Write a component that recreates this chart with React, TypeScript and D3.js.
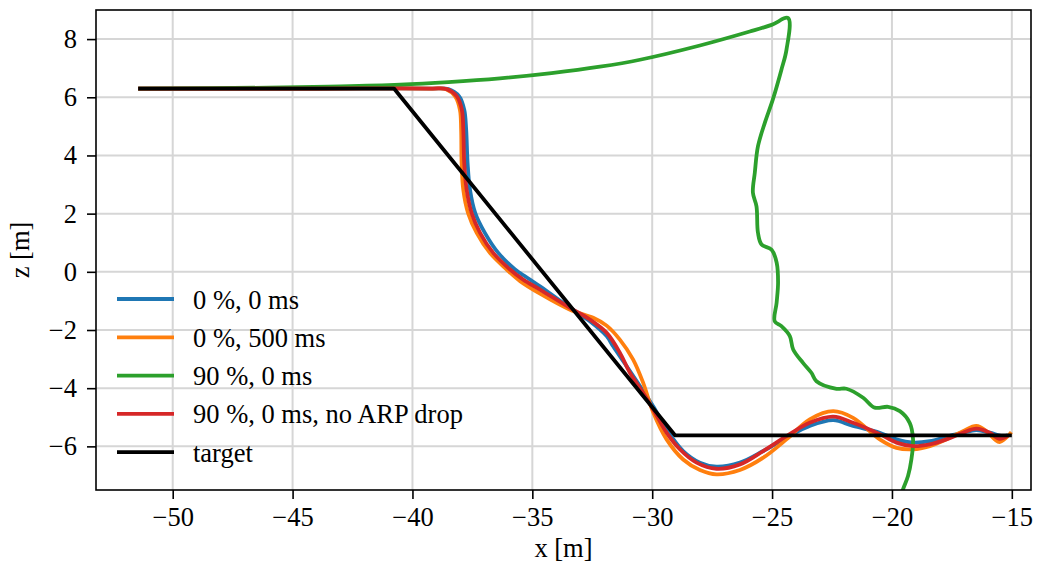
import { useEffect, useRef } from "react";
import * as d3 from "d3";

// trajectories in the x-z plane, [x, z] in metres
const target: [number, number][] = [
  [-51.44, 6.3], [-40.77, 6.3], [-29.05, -5.62], [-15.0, -5.62],
];

const noLoss: [number, number][] = [
  [-51.44, 6.3], [-44, 6.3], [-39.2, 6.3], [-38.5, 6.28], [-38.05, 6.03], [-37.84, 5.57],
  [-37.76, 4.89], [-37.7, 3.74], [-37.6, 2.82], [-37.38, 2.02], [-36.98, 1.34], [-36.42, 0.65],
  [-35.72, 0.08], [-35.51, -0.04], [-34.68, -0.5], [-33.43, -1.24], [-32.6, -1.7], [-31.9, -2.21],
  [-31.63, -2.56], [-31.07, -3.24], [-30.51, -3.93], [-29.96, -4.62], [-29.4, -5.42], [-28.71, -6.16],
  [-28.01, -6.56], [-27.32, -6.7], [-26.34, -6.56], [-25.37, -6.16], [-24.4, -5.7], [-23.43, -5.3],
  [-22.45, -5.1], [-21.62, -5.3], [-20.51, -5.53], [-19.81, -5.76], [-19.12, -5.87], [-18.42, -5.82],
  [-17.73, -5.67], [-17.04, -5.53], [-16.48, -5.44], [-15.92, -5.53], [-15.37, -5.65], [-15.16, -5.62],
];

const delay500: [number, number][] = [
  [-51.44, 6.3], [-44, 6.3], [-39.2, 6.3], [-38.6, 6.28], [-38.22, 6.03], [-38.02, 5.57],
  [-37.97, 4.89], [-37.95, 3.75], [-37.88, 2.82], [-37.68, 2.02], [-37.32, 1.34], [-36.77, 0.65],
  [-36.07, 0.08], [-35.51, -0.32], [-34.68, -0.75], [-33.43, -1.3], [-32.46, -1.58], [-31.9, -1.85],
  [-31.35, -2.33], [-30.8, -3.01], [-30.38, -3.81], [-29.96, -4.83], [-29.4, -5.76], [-28.71, -6.45],
  [-28.01, -6.81], [-27.32, -6.96], [-26.34, -6.81], [-25.37, -6.39], [-24.4, -5.76], [-23.43, -5.07],
  [-22.45, -4.79], [-21.62, -5.02], [-20.51, -5.76], [-19.81, -6.05], [-19.12, -6.1], [-18.42, -5.99],
  [-17.73, -5.76], [-17.04, -5.48], [-16.48, -5.3], [-16.06, -5.48], [-15.71, -5.76], [-15.51, -5.85],
  [-15.23, -5.7], [-15.02, -5.51],
];

const loss90: [number, number][] = [
  [-51.44, 6.3], [-46, 6.33], [-43, 6.37], [-40.52, 6.43], [-38.5, 6.52], [-36.35, 6.65],
  [-34.2, 6.83], [-32.18, 7.05], [-30.51, 7.29], [-28.01, 7.78], [-25.93, 8.26], [-25.02, 8.49],
  [-24.33, 8.72], [-24.4, 7.63], [-24.61, 6.95], [-24.97, 5.92], [-25.3, 5.13], [-25.59, 4.31],
  [-25.72, 3.41], [-25.8, 2.72], [-25.65, 2.25], [-25.59, 1.35], [-25.44, 0.94], [-25.02, 0.76],
  [-24.81, 0.32], [-24.75, -0.37], [-24.81, -1.06], [-24.89, -1.7], [-24.61, -1.87], [-24.26, -2.21],
  [-24.12, -2.67], [-23.71, -3.13], [-23.36, -3.47], [-23.15, -3.76], [-22.31, -4.02], [-21.9, -4.02],
  [-21.2, -4.33], [-20.72, -4.67], [-20.16, -4.64], [-19.67, -4.79], [-19.26, -5.19], [-19.12, -5.76],
  [-19.19, -6.45], [-19.33, -7.02], [-19.54, -7.48], [-19.7, -7.9],
];

const loss90NoDrop: [number, number][] = [
  [-51.44, 6.3], [-44, 6.3], [-39.2, 6.3], [-38.57, 6.28], [-38.15, 6.03], [-37.94, 5.57],
  [-37.88, 4.89], [-37.84, 3.74], [-37.74, 2.82], [-37.53, 2.02], [-37.18, 1.34], [-36.63, 0.65],
  [-35.93, 0.08], [-35.38, -0.27], [-34.68, -0.61], [-33.43, -1.24], [-32.6, -1.64], [-31.9, -2.1],
  [-31.35, -2.78], [-30.93, -3.47], [-30.38, -4.16], [-29.96, -4.73], [-29.4, -5.53], [-28.85, -6.1],
  [-28.15, -6.56], [-27.32, -6.77], [-26.34, -6.62], [-25.37, -6.16], [-24.4, -5.65], [-23.43, -5.19],
  [-22.45, -4.98], [-21.62, -5.19], [-20.51, -5.58], [-19.81, -5.87], [-19.12, -5.99], [-18.42, -5.93],
  [-17.73, -5.76], [-17.04, -5.53], [-16.48, -5.39], [-15.92, -5.53], [-15.51, -5.74], [-15.16, -5.62],
];

const xTicks = [-50, -45, -40, -35, -30, -25, -20, -15];
const zTicks = [-6, -4, -2, 0, 2, 4, 6, 8];

const series = [
  { label: "0 %, 0 ms", color: "#1f77b4", data: noLoss, smooth: true },
  { label: "0 %, 500 ms", color: "#ff7f0e", data: delay500, smooth: true },
  { label: "90 %, 0 ms", color: "#2ca02c", data: loss90, smooth: true },
  { label: "90 %, 0 ms, no ARP drop", color: "#d62728", data: loss90NoDrop, smooth: true },
  { label: "target", color: "#000000", data: target, smooth: false },
];

const W = 1044;
const H = 565;
const margin = { top: 10, right: 13, bottom: 75, left: 96 };
const FONT = "'Liberation Serif', 'Times New Roman', serif";
const FS = 26.5;
const LW = 3.8;

export default function App() {
  const svgRef = useRef<SVGSVGElement>(null);

  useEffect(() => {
    document.body.style.margin = "0";
    const svg = d3.select(svgRef.current);
    svg.selectAll("*").remove();

    const width = W - margin.left - margin.right;
    const height = H - margin.top - margin.bottom;

    const x = d3.scaleLinear().domain([-53.2, -14.2]).range([0, width]);
    const y = d3.scaleLinear().domain([-7.5, 9.0]).range([height, 0]);

    svg.append("defs").append("clipPath").attr("id", "plot-clip")
      .append("rect").attr("width", width).attr("height", height);

    const g = svg.append("g").attr("transform", `translate(${margin.left},${margin.top})`);

    // grid
    g.selectAll(".gx").data(xTicks).join("line")
      .attr("x1", d => x(d)).attr("x2", d => x(d))
      .attr("y1", 0).attr("y2", height)
      .attr("stroke", "#d6d6d6").attr("stroke-width", 2);
    g.selectAll(".gy").data(zTicks).join("line")
      .attr("x1", 0).attr("x2", width)
      .attr("y1", d => y(d)).attr("y2", d => y(d))
      .attr("stroke", "#d6d6d6").attr("stroke-width", 2);

    const plot = g.append("g").attr("clip-path", "url(#plot-clip)");
    series.forEach(s => {
      const line = d3.line<[number, number]>()
        .x(d => x(d[0]))
        .y(d => y(d[1]))
        .curve(s.smooth ? d3.curveCatmullRom.alpha(0.5) : d3.curveLinear);
      plot.append("path")
        .datum(s.data)
        .attr("d", line)
        .attr("fill", "none")
        .attr("stroke", s.color)
        .attr("stroke-width", LW)
        .attr("stroke-linejoin", "round")
        .attr("stroke-linecap", "butt");
    });

    // frame
    g.append("rect")
      .attr("width", width).attr("height", height)
      .attr("fill", "none").attr("stroke", "#000").attr("stroke-width", 1.6);

    // axes
    const xAxis = d3.axisBottom(x).tickValues(xTicks).tickSize(9).tickPadding(8)
      .tickFormat(d => d3.format("d")(d as number).replace("-", "\u2212"));
    const ax = g.append("g").attr("transform", `translate(0,${height})`).call(xAxis);
    ax.select(".domain").remove();
    ax.selectAll("line").attr("stroke", "#000").attr("stroke-width", 1.6);
    ax.selectAll("text").attr("font-family", FONT).attr("font-size", FS).attr("fill", "#000");

    const yAxis = d3.axisLeft(y).tickValues(zTicks).tickSize(9).tickPadding(10)
      .tickFormat(d => d3.format("d")(d as number).replace("-", "\u2212"));
    const ay = g.append("g").call(yAxis);
    ay.select(".domain").remove();
    ay.selectAll("line").attr("stroke", "#000").attr("stroke-width", 1.6);
    ay.selectAll("text").attr("font-family", FONT).attr("font-size", FS).attr("fill", "#000");

    // labels
    svg.append("text")
      .attr("x", margin.left + width / 2).attr("y", 557)
      .attr("text-anchor", "middle")
      .attr("font-family", FONT).attr("font-size", FS)
      .text("x [m]");
    svg.append("text")
      .attr("transform", `translate(29,${margin.top + height / 2}) rotate(-90)`)
      .attr("text-anchor", "middle")
      .attr("font-family", FONT).attr("font-size", FS)
      .text("z [m]");

    // legend
    const legend = svg.append("g").attr("transform", "translate(117,299)");
    series.forEach((s, i) => {
      const row = legend.append("g").attr("transform", `translate(0,${i * 38.3})`);
      row.append("line").attr("x1", 0).attr("x2", 57).attr("y1", 0).attr("y2", 0)
        .attr("stroke", s.color).attr("stroke-width", LW);
      row.append("text").attr("x", 76).attr("y", 9.5)
        .attr("font-family", FONT).attr("font-size", FS)
        .text(s.label);
    });
  }, []);

  return <svg ref={svgRef} width={W} height={H} style={{ display: "block", background: "#fff" }} />;
}
